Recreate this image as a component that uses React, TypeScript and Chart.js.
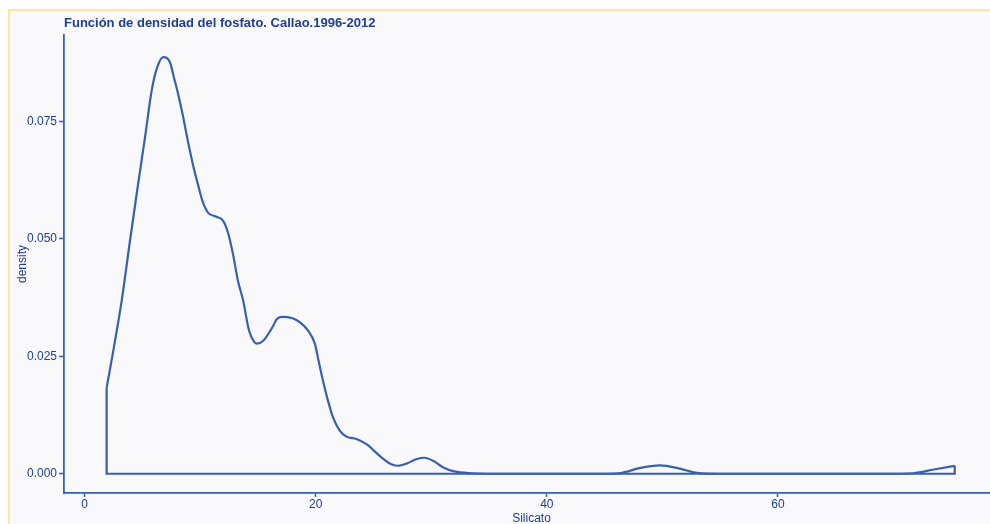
import React, { useEffect, useRef } from "react";
import { Chart, registerables } from "chart.js";

Chart.register(...registerables);

const titleText = "Función de densidad del fosfato. Callao.1996-2012";
const xLabel = "Silicato";
const yLabel = "density";
const xTicks = [0, 20, 40, 60];
const yTicks = [0, 0.025, 0.05, 0.075];

const curveX = [
  1.91, 2.48, 3.21, 3.93, 4.51, 5.23, 5.81, 6.24, 6.81,
  7.39, 7.76, 8.08, 8.51, 8.95, 9.38, 9.81, 10.24, 10.68, 11.4, 11.98, 12.4, 12.84, 13.27,
  13.73, 14.17, 14.46, 14.89, 15.46, 16.33, 16.62, 17.06, 18.0, 18.65, 19.36, 19.94, 20.22,
  20.63, 21.07, 21.5, 22.08, 22.66, 23.52, 24.39, 25.54, 26.4, 27.1, 27.9, 28.7, 29.4, 30.2,
  31.0, 32.0, 33.5, 35, 45, 46.5, 48.0, 49.8, 51.5, 53.0, 55, 70, 71.7, 73.5, 75.3,
];
const curveY = [
  0.0183, 0.0261, 0.0368, 0.0496, 0.0596, 0.0716, 0.0816, 0.0862, 0.0887,
  0.0876, 0.0841, 0.081, 0.0762, 0.0707, 0.0658, 0.0616,
  0.0578, 0.0556, 0.0547, 0.0539, 0.0514, 0.0468, 0.0411, 0.0368, 0.0311, 0.029, 0.0277,
  0.0283, 0.0315, 0.0329, 0.0334, 0.0331, 0.0322, 0.0304, 0.0276, 0.0244, 0.0198, 0.0155,
  0.012, 0.0092, 0.0079, 0.0074, 0.0063, 0.0038, 0.0022, 0.0017, 0.0022, 0.0031, 0.0034,
  0.0027, 0.0014, 0.0005, 0.0001, 0, 0, 0.0002, 0.0012, 0.0018, 0.0011, 0.0002, 0, 0,
  0.0001, 0.0009, 0.0017,
];

const lineColor = "#3760b0";
const textColor = "#1e3e92";
const fontFamily = "'Liberation Sans', Arial, sans-serif";

export default function App() {
  const ref = useRef<HTMLCanvasElement>(null);

  useEffect(() => {
    if (!ref.current) return;
    const curve = curveX.map((x, i) => ({ x, y: curveY[i] }));
    const first = curve[0];
    const last = curve[curve.length - 1];
    const outline = [
      { x: first.x, y: first.y },
      { x: first.x, y: 0 },
      { x: last.x, y: 0 },
      { x: last.x, y: last.y },
    ];
    const chart = new Chart(ref.current, {
      type: "scatter",
      data: {
        datasets: [
          {
            data: curve,
            showLine: true,
            borderColor: lineColor,
            borderWidth: 2.2,
            pointRadius: 0,
            cubicInterpolationMode: "monotone",
          },
          {
            data: outline,
            showLine: true,
            borderColor: lineColor,
            borderWidth: 2.2,
            pointRadius: 0,
            tension: 0,
          },
        ],
      },
      options: {
        responsive: false,
        animation: false,
        layout: { padding: { top: 8, left: 0, right: 0, bottom: 0 } },
        plugins: {
          legend: { display: false },
          tooltip: { enabled: false },
          title: {
            display: true,
            text: titleText,
            align: "start",
            fullSize: false,
            color: textColor,
            font: { family: fontFamily, size: 13, weight: "bold", lineHeight: 1.2 },
            padding: { top: 8, bottom: 3.4 },
          },
        },
        scales: {
          x: {
            type: "linear",
            min: -1.78,
            max: 79.13,
            afterBuildTicks: (axis: any) => {
              axis.ticks = xTicks.map((v) => ({ value: v }));
            },
            afterFit: (axis: any) => {
              axis.height = 31;
              axis.paddingLeft = 0;
              axis.paddingRight = 0;
            },
            grid: { display: true, drawOnChartArea: false, drawTicks: true, tickLength: 4, color: lineColor, tickWidth: 1.5 },
            border: { display: true, color: lineColor, width: 1.8 },
            ticks: {
              color: textColor,
              padding: 0,
              font: { family: fontFamily, size: 12 },
              callback: (v: any) => String(v),
            },
            title: {
              display: true,
              text: xLabel,
              color: textColor,
              font: { family: fontFamily, size: 12 },
              padding: { top: 0, bottom: -1.5 },
            },
          },
          y: {
            type: "linear",
            min: -0.0041,
            max: 0.0934,
            afterBuildTicks: (axis: any) => {
              axis.ticks = yTicks.map((v) => ({ value: v }));
            },
            afterFit: (axis: any) => {
              axis.width = 64;
            },
            grid: { display: true, drawOnChartArea: false, drawTicks: true, tickLength: 5, color: lineColor, tickWidth: 1.5 },
            border: { display: true, color: lineColor, width: 1.8 },
            ticks: {
              color: textColor,
              padding: 2,
              font: { family: fontFamily, size: 12 },
              callback: (v: any) => Number(v).toFixed(3),
            },
            title: {
              display: true,
              text: yLabel,
              color: textColor,
              font: { family: fontFamily, size: 12 },
              padding: { top: 15, bottom: 0 },
            },
          },
        },
      },
    });
    return () => chart.destroy();
  }, []);

  return (
    <div style={{ position: "fixed", left: 0, top: 0, width: 990, height: 524, background: "#ffffff", overflow: "hidden" }}>
      <div
        style={{
          position: "absolute",
          left: 8,
          top: 9,
          width: 1000,
          height: 540,
          background: "#f9f9fc",
          borderTop: "2px solid #fce7a6",
          borderLeft: "2px solid #fce7a6",
        }}
      />
      <canvas ref={ref} width={999} height={524} style={{ position: "absolute", left: 0, top: 0 }} />
    </div>
  );
}
